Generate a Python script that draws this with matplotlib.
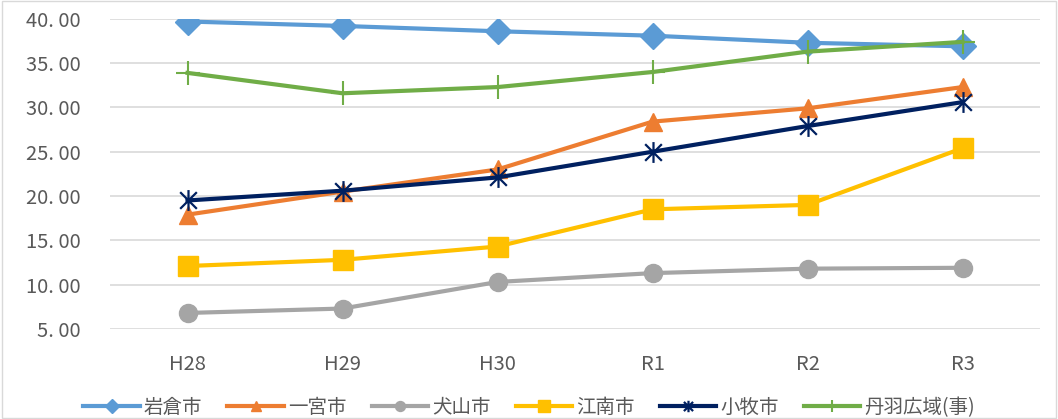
import matplotlib
matplotlib.use("Agg")
import matplotlib.pyplot as plt
from matplotlib.path import Path
from matplotlib.patches import Rectangle

plt.rcParams['font.family'] = ['Noto Sans CJK JP', 'DejaVu Sans']

years = ['H28', 'H29', 'H30', 'R1', 'R2', 'R3']

iwakura = [39.7, 39.2, 38.6, 38.1, 37.3, 36.9]
ichinomiya = [17.9, 20.5, 23.0, 28.4, 29.9, 32.3]
inuyama = [6.8, 7.3, 10.3, 11.3, 11.8, 11.9]
konan = [12.1, 12.8, 14.3, 18.5, 19.0, 25.4]
komaki = [19.5, 20.6, 22.1, 25.0, 27.9, 30.6]
niwa = [33.9, 31.6, 32.3, 34.0, 36.3, 37.4]

series_names = ['岩倉市', '一宮市', '犬山市', '江南市', '小牧市', '丹羽広域(事)']

# asterisk marker like Excel's: x with a vertical bar
star = Path(
    [(0, -1), (0, 1), (-0.8, -0.8), (0.8, 0.8), (-0.8, 0.8), (0.8, -0.8)],
    [Path.MOVETO, Path.LINETO, Path.MOVETO, Path.LINETO, Path.MOVETO, Path.LINETO],
)

fig = plt.figure(figsize=(10.58, 4.19), dpi=100)
ax = fig.add_axes([0.104, 0.215, 0.879, 0.74])

x = range(len(years))
styles = [
    (iwakura, '#5B9BD5', 'D', 13, {}),
    (ichinomiya, '#ED7D31', '^', 13, {}),
    (inuyama, '#A5A5A5', 'o', 13, {}),
    (konan, '#FFC000', 's', 15, {}),
    (komaki, '#002060', star, 15, {'markerfacecolor': 'none', 'markeredgewidth': 1.6}),
    (niwa, '#70AD47', '+', 17, {'markeredgewidth': 1.5}),
]

handles = []
for (vals, col, mk, ms, extra), name in zip(styles, series_names):
    h, = ax.plot(x, vals, color=col, lw=3, marker=mk, markersize=ms,
                 markeredgecolor=col, label=name, **extra)
    handles.append(h)

ax.set_xlim(-0.5, len(years) - 0.5)
ax.set_ylim(5, 40)
ax.set_yticks(range(5, 41, 5))
ax.set_yticklabels([f'{v}. 00' for v in range(5, 41, 5)])
ax.set_xticks(list(x))
ax.set_xticklabels(years)
ax.grid(axis='y', color='#D9D9D9', lw=1.2)
ax.set_axisbelow(True)
for s in ax.spines.values():
    s.set_visible(False)
ax.tick_params(length=0, labelsize=14.5, colors='#595959')
ax.tick_params(axis='x', pad=18)
ax.tick_params(axis='y', pad=21)

fig.legend(handles=handles, loc='lower center', ncol=6, frameon=False,
           bbox_to_anchor=(0.5, -0.04), fontsize=14, markerscale=0.55,
           handlelength=2.9, handletextpad=0.2, columnspacing=1.3,
           labelcolor='#595959')

fig.patches.append(Rectangle((0.002, 0.002), 0.996, 0.996, transform=fig.transFigure,
                             fill=False, edgecolor='#D9D9D9', lw=1))

fig.savefig('out.png', dpi=100)
